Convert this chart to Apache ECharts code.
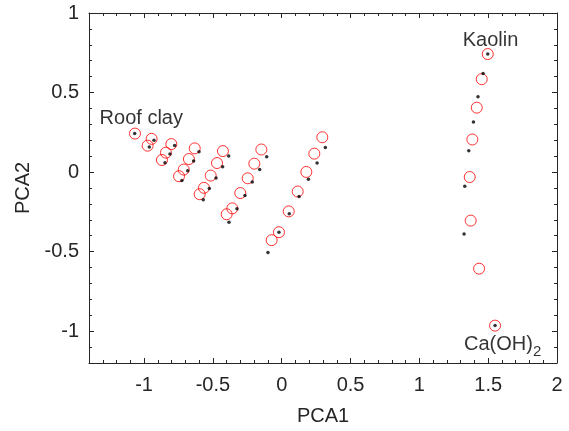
<!DOCTYPE html>
<html>
<head>
<meta charset="utf-8">
<script src="https://cdn.jsdelivr.net/npm/echarts@6/dist/echarts.min.js"></script>
<style>
html,body{margin:0;padding:0;background:#fff;}
#chart{width:569px;height:431px;}
</style>
</head>
<body>
<div id="chart"></div>
<script>
// Measured scores (red open circles)
const measuredPCA1 = [-1.066,-0.945,-0.974,-0.802,-0.841,-0.870,-0.632,-0.674,-0.712,-0.746,
  -0.427,-0.470,-0.516,-0.565,-0.596,-0.148,-0.199,-0.247,-0.301,-0.359,-0.400,
  0.295,0.237,0.179,0.116,0.051,-0.020,-0.073,
  1.497,1.453,1.417,1.385,1.366,1.373,1.434,1.550];
const measuredPCA2 = [0.242,0.209,0.166,0.176,0.122,0.076,0.149,0.082,0.016,-0.026,
  0.132,0.057,-0.022,-0.099,-0.139,0.142,0.053,-0.039,-0.132,-0.228,-0.265,
  0.219,0.116,0.001,-0.122,-0.247,-0.378,-0.428,
  0.742,0.584,0.405,0.205,-0.031,-0.305,-0.607,-0.965];
// Predicted scores (black dots)
const predictedPCA1 = [-1.068,-0.928,-0.962,-0.778,-0.812,-0.848,-0.601,-0.640,-0.683,-0.725,
  -0.385,-0.429,-0.477,-0.526,-0.570,-0.109,-0.160,-0.214,-0.267,-0.325,-0.383,
  0.317,0.257,0.194,0.126,0.055,-0.020,-0.100,
  1.497,1.463,1.426,1.393,1.359,1.330,1.325,1.550];
const predictedPCA2 = [0.242,0.200,0.157,0.167,0.113,0.059,0.128,0.069,0.009,-0.053,
  0.101,0.034,-0.037,-0.103,-0.174,0.097,0.017,-0.062,-0.147,-0.230,-0.315,
  0.155,0.057,-0.045,-0.153,-0.262,-0.378,-0.505,
  0.742,0.619,0.473,0.315,0.134,-0.089,-0.389,-0.965];
// Annotations
const annotText = ['Roof clay','Kaolin','Ca(OH){s|2}'];
const annotPCA1 = [-1.02,1.517,1.605];
const annotPCA2 = [0.34,0.83,-1.085];
// Axes
const xRange = [-1.4, 2];
const yRange = [-1.2, 1];
const xMajor = [-1,-0.5,0,0.5,1,1.5,2];
const yMajor = [-1,-0.5,0,0.5,1];

function minorTicks(lo, hi){
  const out = [];
  for(let i=Math.round(lo*10); i<=Math.round(hi*10); i++) out.push(+(i/10).toFixed(1));
  return out;
}
const xMinor = minorTicks(xRange[0], xRange[1]);
const yMinor = minorTicks(yRange[0], yRange[1]);

const axisColor = '#262626';
const font = 'Liberation Sans, Arial, sans-serif';

function mkAxis(base, position, values, len, labels, line){
  return {
    type:'value', position: position, min: base[0], max: base[1],
    splitLine:{show:false},
    axisLine:{show: line, onZero:false, lineStyle:{color:axisColor, width:1}},
    axisTick:{show:true, inside:true, length:len, customValues: values, lineStyle:{color:axisColor, width:1}},
    axisLabel: labels ? {show:true, customValues: values, fontSize:20, color:axisColor, fontFamily:font, margin: (position==='left'?10:12)} : {show:false}
  };
}

const xAxes = [
  Object.assign(mkAxis(xRange,'bottom',xMajor,5,true,true), {name:'PCA1', nameLocation:'middle', nameGap:43, nameTextStyle:{fontSize:20,color:axisColor,fontFamily:font}}),
  mkAxis(xRange,'bottom',xMinor,3,false,false),
  mkAxis(xRange,'top',xMajor,5,false,true),
  mkAxis(xRange,'top',xMinor,3,false,false)
];
const yAxes = [
  Object.assign(mkAxis(yRange,'left',yMajor,5,true,true), {name:'PCA2', nameLocation:'middle', nameGap:54, nameTextStyle:{fontSize:20,color:axisColor,fontFamily:font}}),
  mkAxis(yRange,'left',yMinor,3,false,false),
  mkAxis(yRange,'right',yMajor,5,false,true),
  mkAxis(yRange,'right',yMinor,3,false,false)
];

const chart = echarts.init(document.getElementById('chart'), null, {renderer:'canvas'});
chart.setOption({
  animation:false,
  backgroundColor:'#fff',
  grid:{left:89, right:12, top:13, bottom:66, containLabel:false},
  xAxis: xAxes,
  yAxis: yAxes,
  series:[
    {
      type:'scatter', xAxisIndex:0, yAxisIndex:0,
      symbol:'circle', symbolSize:11,
      itemStyle:{color:'rgba(0,0,0,0)', borderColor:'#ff0000', borderWidth:1},
      data: measuredPCA1.map((x,i)=>[x, measuredPCA2[i]]),
      z:2
    },
    {
      type:'scatter', xAxisIndex:0, yAxisIndex:0,
      symbol:'circle', symbolSize:3.5,
      itemStyle:{color:'#000'},
      data: predictedPCA1.map((x,i)=>[x, predictedPCA2[i]]),
      z:3
    },
    {
      type:'scatter', xAxisIndex:0, yAxisIndex:0,
      symbolSize:0, silent:true,
      label:{show:true, position:'inside', fontSize:20, color:'#000', fontFamily:font,
        formatter:(p)=>annotText[p.dataIndex],
        rich:{s:{fontSize:15, verticalAlign:'bottom', padding:[14,0,0,0], color:'#000', fontFamily:font}}},
      data: annotPCA1.map((x,i)=>[x, annotPCA2[i]]),
      z:4
    }
  ]
});
</script>
</body>
</html>
